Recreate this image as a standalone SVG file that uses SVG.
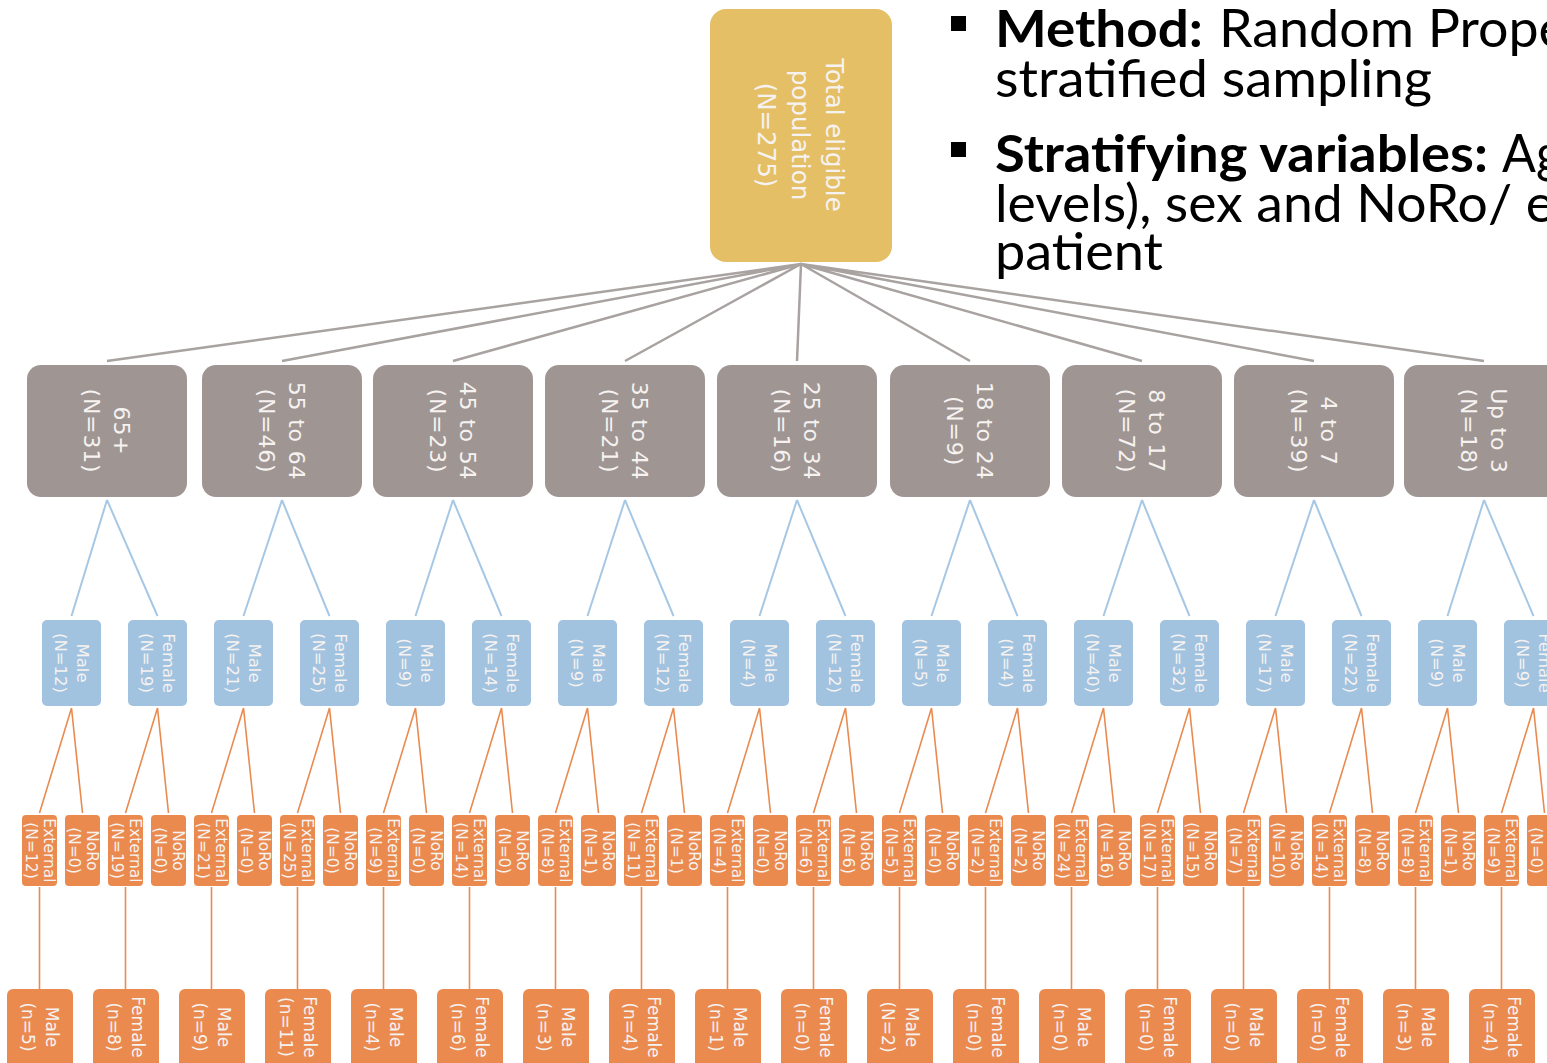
<svg xmlns="http://www.w3.org/2000/svg" width="1547" height="1063" viewBox="0 0 1547 1063">
<style>
.bt{font-family:"DejaVu Sans","Liberation Sans",sans-serif;fill:#F6F2F0;text-anchor:middle;dominant-baseline:central}
.t0{font-size:24.5px}
.t1{font-size:22px;letter-spacing:0.8px}
.t2{font-size:16.5px}
.t3{font-size:15.5px}
.t4{font-size:17px}
.gold{fill:#E5BF66}
.gray{fill:#9F9694}
.blue{fill:#A1C3E0}
.org{fill:#EA8A4F}
.c0{stroke:#A8A2A0;stroke-width:2.5;fill:none}
.c1{stroke:#A6C8E4;stroke-width:2;fill:none}
.c2{stroke:#E98B50;stroke-width:1.6;fill:none}
.rt{font-family:Lato,"Liberation Sans",sans-serif;font-size:52px;fill:#000}
.b{font-weight:bold}
</style>
<rect width="1547" height="1063" fill="#FFFFFF"/>
<g id="connectors">
<path class="c0" d="M801,264L107,361M801,264L282,361M801,264L453,361M801,264L625,361M801,264L797,361M801,264L970,361M801,264L1142,361M801,264L1314,361M801,264L1484,361"/>
<path class="c1" d="M107,500L71.5,616M107,500L157.5,616M282,500L243.5,616M282,500L329.5,616M453,500L415.5,616M453,500L501.5,616M625,500L587.5,616M625,500L673.5,616M797,500L759.5,616M797,500L845.5,616M970,500L931.5,616M970,500L1017.5,616M1142,500L1103.5,616M1142,500L1189.5,616M1314,500L1275.5,616M1314,500L1361.5,616M1484,500L1447.5,616M1484,500L1533.5,616"/>
<path class="c2" d="M71.5,708L39.5,813M71.5,708L82.5,813M157.5,708L125.5,813M157.5,708L168.5,813M243.5,708L211.5,813M243.5,708L254.5,813M329.5,708L297.5,813M329.5,708L340.5,813M415.5,708L383.5,813M415.5,708L426.5,813M501.5,708L469.5,813M501.5,708L512.5,813M587.5,708L555.5,813M587.5,708L598.5,813M673.5,708L641.5,813M673.5,708L684.5,813M759.5,708L727.5,813M759.5,708L770.5,813M845.5,708L813.5,813M845.5,708L856.5,813M931.5,708L899.5,813M931.5,708L942.5,813M1017.5,708L985.5,813M1017.5,708L1028.5,813M1103.5,708L1071.5,813M1103.5,708L1114.5,813M1189.5,708L1157.5,813M1189.5,708L1200.5,813M1275.5,708L1243.5,813M1275.5,708L1286.5,813M1361.5,708L1329.5,813M1361.5,708L1372.5,813M1447.5,708L1415.5,813M1447.5,708L1458.5,813M1533.5,708L1501.5,813M1533.5,708L1544.5,813"/>
<path class="c2" d="M39.5,887V989M125.5,887V989M211.5,887V989M297.5,887V989M383.5,887V989M469.5,887V989M555.5,887V989M641.5,887V989M727.5,887V989M813.5,887V989M899.5,887V989M985.5,887V989M1071.5,887V989M1157.5,887V989M1243.5,887V989M1329.5,887V989M1415.5,887V989M1501.5,887V989"/>
</g>
<g id="total">
<rect class="gold" x="710" y="9" width="182" height="253" rx="16"/>
<text class="bt t0" transform="translate(801 135) rotate(90)"><tspan x="0" y="-34">Total eligible</tspan><tspan x="0" y="0">population</tspan><tspan x="0" y="34">(N=275)</tspan></text>
</g>
<g id="age-65plus"><rect class="gray" x="27" y="365" width="160" height="132" rx="14"/><text class="bt t1" transform="translate(107 431) rotate(90)"><tspan x="0" y="-15">65+</tspan><tspan x="0" y="15">(N=31)</tspan></text></g>
<g id="age-55-64"><rect class="gray" x="202" y="365" width="160" height="132" rx="14"/><text class="bt t1" transform="translate(282 431) rotate(90)"><tspan x="0" y="-15">55 to 64</tspan><tspan x="0" y="15">(N=46)</tspan></text></g>
<g id="age-45-54"><rect class="gray" x="373" y="365" width="160" height="132" rx="14"/><text class="bt t1" transform="translate(453 431) rotate(90)"><tspan x="0" y="-15">45 to 54</tspan><tspan x="0" y="15">(N=23)</tspan></text></g>
<g id="age-35-44"><rect class="gray" x="545" y="365" width="160" height="132" rx="14"/><text class="bt t1" transform="translate(625 431) rotate(90)"><tspan x="0" y="-15">35 to 44</tspan><tspan x="0" y="15">(N=21)</tspan></text></g>
<g id="age-25-34"><rect class="gray" x="717" y="365" width="160" height="132" rx="14"/><text class="bt t1" transform="translate(797 431) rotate(90)"><tspan x="0" y="-15">25 to 34</tspan><tspan x="0" y="15">(N=16)</tspan></text></g>
<g id="age-18-24"><rect class="gray" x="890" y="365" width="160" height="132" rx="14"/><text class="bt t1" transform="translate(970 431) rotate(90)"><tspan x="0" y="-15">18 to 24</tspan><tspan x="0" y="15">(N=9)</tspan></text></g>
<g id="age-8-17"><rect class="gray" x="1062" y="365" width="160" height="132" rx="14"/><text class="bt t1" transform="translate(1142 431) rotate(90)"><tspan x="0" y="-15">8 to 17</tspan><tspan x="0" y="15">(N=72)</tspan></text></g>
<g id="age-4-7"><rect class="gray" x="1234" y="365" width="160" height="132" rx="14"/><text class="bt t1" transform="translate(1314 431) rotate(90)"><tspan x="0" y="-15">4 to 7</tspan><tspan x="0" y="15">(N=39)</tspan></text></g>
<g id="age-upto3"><rect class="gray" x="1404" y="365" width="160" height="132" rx="14"/><text class="bt t1" transform="translate(1484 431) rotate(90)"><tspan x="0" y="-15">Up to 3</tspan><tspan x="0" y="15">(N=18)</tspan></text></g>
<g id="sex-1"><rect class="blue" x="42" y="620" width="59" height="86" rx="5"/><text class="bt t2" transform="translate(71.5 663) rotate(90)"><tspan x="0" y="-11">Male</tspan><tspan x="0" y="11">(N=12)</tspan></text></g>
<g id="sex-2"><rect class="blue" x="128" y="620" width="59" height="86" rx="5"/><text class="bt t2" transform="translate(157.5 663) rotate(90)"><tspan x="0" y="-11">Female</tspan><tspan x="0" y="11">(N=19)</tspan></text></g>
<g id="sex-3"><rect class="blue" x="214" y="620" width="59" height="86" rx="5"/><text class="bt t2" transform="translate(243.5 663) rotate(90)"><tspan x="0" y="-11">Male</tspan><tspan x="0" y="11">(N=21)</tspan></text></g>
<g id="sex-4"><rect class="blue" x="300" y="620" width="59" height="86" rx="5"/><text class="bt t2" transform="translate(329.5 663) rotate(90)"><tspan x="0" y="-11">Female</tspan><tspan x="0" y="11">(N=25)</tspan></text></g>
<g id="sex-5"><rect class="blue" x="386" y="620" width="59" height="86" rx="5"/><text class="bt t2" transform="translate(415.5 663) rotate(90)"><tspan x="0" y="-11">Male</tspan><tspan x="0" y="11">(N=9)</tspan></text></g>
<g id="sex-6"><rect class="blue" x="472" y="620" width="59" height="86" rx="5"/><text class="bt t2" transform="translate(501.5 663) rotate(90)"><tspan x="0" y="-11">Female</tspan><tspan x="0" y="11">(N=14)</tspan></text></g>
<g id="sex-7"><rect class="blue" x="558" y="620" width="59" height="86" rx="5"/><text class="bt t2" transform="translate(587.5 663) rotate(90)"><tspan x="0" y="-11">Male</tspan><tspan x="0" y="11">(N=9)</tspan></text></g>
<g id="sex-8"><rect class="blue" x="644" y="620" width="59" height="86" rx="5"/><text class="bt t2" transform="translate(673.5 663) rotate(90)"><tspan x="0" y="-11">Female</tspan><tspan x="0" y="11">(N=12)</tspan></text></g>
<g id="sex-9"><rect class="blue" x="730" y="620" width="59" height="86" rx="5"/><text class="bt t2" transform="translate(759.5 663) rotate(90)"><tspan x="0" y="-11">Male</tspan><tspan x="0" y="11">(N=4)</tspan></text></g>
<g id="sex-10"><rect class="blue" x="816" y="620" width="59" height="86" rx="5"/><text class="bt t2" transform="translate(845.5 663) rotate(90)"><tspan x="0" y="-11">Female</tspan><tspan x="0" y="11">(N=12)</tspan></text></g>
<g id="sex-11"><rect class="blue" x="902" y="620" width="59" height="86" rx="5"/><text class="bt t2" transform="translate(931.5 663) rotate(90)"><tspan x="0" y="-11">Male</tspan><tspan x="0" y="11">(N=5)</tspan></text></g>
<g id="sex-12"><rect class="blue" x="988" y="620" width="59" height="86" rx="5"/><text class="bt t2" transform="translate(1017.5 663) rotate(90)"><tspan x="0" y="-11">Female</tspan><tspan x="0" y="11">(N=4)</tspan></text></g>
<g id="sex-13"><rect class="blue" x="1074" y="620" width="59" height="86" rx="5"/><text class="bt t2" transform="translate(1103.5 663) rotate(90)"><tspan x="0" y="-11">Male</tspan><tspan x="0" y="11">(N=40)</tspan></text></g>
<g id="sex-14"><rect class="blue" x="1160" y="620" width="59" height="86" rx="5"/><text class="bt t2" transform="translate(1189.5 663) rotate(90)"><tspan x="0" y="-11">Female</tspan><tspan x="0" y="11">(N=32)</tspan></text></g>
<g id="sex-15"><rect class="blue" x="1246" y="620" width="59" height="86" rx="5"/><text class="bt t2" transform="translate(1275.5 663) rotate(90)"><tspan x="0" y="-11">Male</tspan><tspan x="0" y="11">(N=17)</tspan></text></g>
<g id="sex-16"><rect class="blue" x="1332" y="620" width="59" height="86" rx="5"/><text class="bt t2" transform="translate(1361.5 663) rotate(90)"><tspan x="0" y="-11">Female</tspan><tspan x="0" y="11">(N=22)</tspan></text></g>
<g id="sex-17"><rect class="blue" x="1418" y="620" width="59" height="86" rx="5"/><text class="bt t2" transform="translate(1447.5 663) rotate(90)"><tspan x="0" y="-11">Male</tspan><tspan x="0" y="11">(N=9)</tspan></text></g>
<g id="sex-18"><rect class="blue" x="1504" y="620" width="59" height="86" rx="5"/><text class="bt t2" transform="translate(1533.5 663) rotate(90)"><tspan x="0" y="-11">Female</tspan><tspan x="0" y="11">(N=9)</tspan></text></g>
<g id="src-1"><rect class="org" x="22" y="815" width="35" height="71" rx="4"/><text class="bt t3" transform="translate(39.5 850.5) rotate(90)"><tspan x="0" y="-9">External</tspan><tspan x="0" y="9">(N=12)</tspan></text></g>
<g id="src-2"><rect class="org" x="65" y="815" width="35" height="71" rx="4"/><text class="bt t3" transform="translate(82.5 850.5) rotate(90)"><tspan x="0" y="-9">NoRo</tspan><tspan x="0" y="9">(N=0)</tspan></text></g>
<g id="src-3"><rect class="org" x="108" y="815" width="35" height="71" rx="4"/><text class="bt t3" transform="translate(125.5 850.5) rotate(90)"><tspan x="0" y="-9">External</tspan><tspan x="0" y="9">(N=19)</tspan></text></g>
<g id="src-4"><rect class="org" x="151" y="815" width="35" height="71" rx="4"/><text class="bt t3" transform="translate(168.5 850.5) rotate(90)"><tspan x="0" y="-9">NoRo</tspan><tspan x="0" y="9">(N=0)</tspan></text></g>
<g id="src-5"><rect class="org" x="194" y="815" width="35" height="71" rx="4"/><text class="bt t3" transform="translate(211.5 850.5) rotate(90)"><tspan x="0" y="-9">External</tspan><tspan x="0" y="9">(N=21)</tspan></text></g>
<g id="src-6"><rect class="org" x="237" y="815" width="35" height="71" rx="4"/><text class="bt t3" transform="translate(254.5 850.5) rotate(90)"><tspan x="0" y="-9">NoRo</tspan><tspan x="0" y="9">(N=0)</tspan></text></g>
<g id="src-7"><rect class="org" x="280" y="815" width="35" height="71" rx="4"/><text class="bt t3" transform="translate(297.5 850.5) rotate(90)"><tspan x="0" y="-9">External</tspan><tspan x="0" y="9">(N=25)</tspan></text></g>
<g id="src-8"><rect class="org" x="323" y="815" width="35" height="71" rx="4"/><text class="bt t3" transform="translate(340.5 850.5) rotate(90)"><tspan x="0" y="-9">NoRo</tspan><tspan x="0" y="9">(N=0)</tspan></text></g>
<g id="src-9"><rect class="org" x="366" y="815" width="35" height="71" rx="4"/><text class="bt t3" transform="translate(383.5 850.5) rotate(90)"><tspan x="0" y="-9">External</tspan><tspan x="0" y="9">(N=9)</tspan></text></g>
<g id="src-10"><rect class="org" x="409" y="815" width="35" height="71" rx="4"/><text class="bt t3" transform="translate(426.5 850.5) rotate(90)"><tspan x="0" y="-9">NoRo</tspan><tspan x="0" y="9">(N=0)</tspan></text></g>
<g id="src-11"><rect class="org" x="452" y="815" width="35" height="71" rx="4"/><text class="bt t3" transform="translate(469.5 850.5) rotate(90)"><tspan x="0" y="-9">External</tspan><tspan x="0" y="9">(N=14)</tspan></text></g>
<g id="src-12"><rect class="org" x="495" y="815" width="35" height="71" rx="4"/><text class="bt t3" transform="translate(512.5 850.5) rotate(90)"><tspan x="0" y="-9">NoRo</tspan><tspan x="0" y="9">(N=0)</tspan></text></g>
<g id="src-13"><rect class="org" x="538" y="815" width="35" height="71" rx="4"/><text class="bt t3" transform="translate(555.5 850.5) rotate(90)"><tspan x="0" y="-9">External</tspan><tspan x="0" y="9">(N=8)</tspan></text></g>
<g id="src-14"><rect class="org" x="581" y="815" width="35" height="71" rx="4"/><text class="bt t3" transform="translate(598.5 850.5) rotate(90)"><tspan x="0" y="-9">NoRo</tspan><tspan x="0" y="9">(N=1)</tspan></text></g>
<g id="src-15"><rect class="org" x="624" y="815" width="35" height="71" rx="4"/><text class="bt t3" transform="translate(641.5 850.5) rotate(90)"><tspan x="0" y="-9">External</tspan><tspan x="0" y="9">(N=11)</tspan></text></g>
<g id="src-16"><rect class="org" x="667" y="815" width="35" height="71" rx="4"/><text class="bt t3" transform="translate(684.5 850.5) rotate(90)"><tspan x="0" y="-9">NoRo</tspan><tspan x="0" y="9">(N=1)</tspan></text></g>
<g id="src-17"><rect class="org" x="710" y="815" width="35" height="71" rx="4"/><text class="bt t3" transform="translate(727.5 850.5) rotate(90)"><tspan x="0" y="-9">External</tspan><tspan x="0" y="9">(N=4)</tspan></text></g>
<g id="src-18"><rect class="org" x="753" y="815" width="35" height="71" rx="4"/><text class="bt t3" transform="translate(770.5 850.5) rotate(90)"><tspan x="0" y="-9">NoRo</tspan><tspan x="0" y="9">(N=0)</tspan></text></g>
<g id="src-19"><rect class="org" x="796" y="815" width="35" height="71" rx="4"/><text class="bt t3" transform="translate(813.5 850.5) rotate(90)"><tspan x="0" y="-9">External</tspan><tspan x="0" y="9">(N=6)</tspan></text></g>
<g id="src-20"><rect class="org" x="839" y="815" width="35" height="71" rx="4"/><text class="bt t3" transform="translate(856.5 850.5) rotate(90)"><tspan x="0" y="-9">NoRo</tspan><tspan x="0" y="9">(N=6)</tspan></text></g>
<g id="src-21"><rect class="org" x="882" y="815" width="35" height="71" rx="4"/><text class="bt t3" transform="translate(899.5 850.5) rotate(90)"><tspan x="0" y="-9">External</tspan><tspan x="0" y="9">(N=5)</tspan></text></g>
<g id="src-22"><rect class="org" x="925" y="815" width="35" height="71" rx="4"/><text class="bt t3" transform="translate(942.5 850.5) rotate(90)"><tspan x="0" y="-9">NoRo</tspan><tspan x="0" y="9">(N=0)</tspan></text></g>
<g id="src-23"><rect class="org" x="968" y="815" width="35" height="71" rx="4"/><text class="bt t3" transform="translate(985.5 850.5) rotate(90)"><tspan x="0" y="-9">External</tspan><tspan x="0" y="9">(N=2)</tspan></text></g>
<g id="src-24"><rect class="org" x="1011" y="815" width="35" height="71" rx="4"/><text class="bt t3" transform="translate(1028.5 850.5) rotate(90)"><tspan x="0" y="-9">NoRo</tspan><tspan x="0" y="9">(N=2)</tspan></text></g>
<g id="src-25"><rect class="org" x="1054" y="815" width="35" height="71" rx="4"/><text class="bt t3" transform="translate(1071.5 850.5) rotate(90)"><tspan x="0" y="-9">External</tspan><tspan x="0" y="9">(N=24)</tspan></text></g>
<g id="src-26"><rect class="org" x="1097" y="815" width="35" height="71" rx="4"/><text class="bt t3" transform="translate(1114.5 850.5) rotate(90)"><tspan x="0" y="-9">NoRo</tspan><tspan x="0" y="9">(N=16)</tspan></text></g>
<g id="src-27"><rect class="org" x="1140" y="815" width="35" height="71" rx="4"/><text class="bt t3" transform="translate(1157.5 850.5) rotate(90)"><tspan x="0" y="-9">External</tspan><tspan x="0" y="9">(N=17)</tspan></text></g>
<g id="src-28"><rect class="org" x="1183" y="815" width="35" height="71" rx="4"/><text class="bt t3" transform="translate(1200.5 850.5) rotate(90)"><tspan x="0" y="-9">NoRo</tspan><tspan x="0" y="9">(N=15)</tspan></text></g>
<g id="src-29"><rect class="org" x="1226" y="815" width="35" height="71" rx="4"/><text class="bt t3" transform="translate(1243.5 850.5) rotate(90)"><tspan x="0" y="-9">External</tspan><tspan x="0" y="9">(N=7)</tspan></text></g>
<g id="src-30"><rect class="org" x="1269" y="815" width="35" height="71" rx="4"/><text class="bt t3" transform="translate(1286.5 850.5) rotate(90)"><tspan x="0" y="-9">NoRo</tspan><tspan x="0" y="9">(N=10)</tspan></text></g>
<g id="src-31"><rect class="org" x="1312" y="815" width="35" height="71" rx="4"/><text class="bt t3" transform="translate(1329.5 850.5) rotate(90)"><tspan x="0" y="-9">External</tspan><tspan x="0" y="9">(N=14)</tspan></text></g>
<g id="src-32"><rect class="org" x="1355" y="815" width="35" height="71" rx="4"/><text class="bt t3" transform="translate(1372.5 850.5) rotate(90)"><tspan x="0" y="-9">NoRo</tspan><tspan x="0" y="9">(N=8)</tspan></text></g>
<g id="src-33"><rect class="org" x="1398" y="815" width="35" height="71" rx="4"/><text class="bt t3" transform="translate(1415.5 850.5) rotate(90)"><tspan x="0" y="-9">External</tspan><tspan x="0" y="9">(N=8)</tspan></text></g>
<g id="src-34"><rect class="org" x="1441" y="815" width="35" height="71" rx="4"/><text class="bt t3" transform="translate(1458.5 850.5) rotate(90)"><tspan x="0" y="-9">NoRo</tspan><tspan x="0" y="9">(N=1)</tspan></text></g>
<g id="src-35"><rect class="org" x="1484" y="815" width="35" height="71" rx="4"/><text class="bt t3" transform="translate(1501.5 850.5) rotate(90)"><tspan x="0" y="-9">External</tspan><tspan x="0" y="9">(N=9)</tspan></text></g>
<g id="src-36"><rect class="org" x="1527" y="815" width="35" height="71" rx="4"/><text class="bt t3" transform="translate(1544.5 850.5) rotate(90)"><tspan x="0" y="-9">NoRo</tspan><tspan x="0" y="9">(N=0)</tspan></text></g>
<g id="ext-1"><rect class="org" x="7" y="989" width="66" height="80" rx="6"/><text class="bt t4" transform="translate(40 1027) rotate(90)"><tspan x="0" y="-12">Male</tspan><tspan x="0" y="12">(n=5)</tspan></text></g>
<g id="ext-2"><rect class="org" x="93" y="989" width="66" height="80" rx="6"/><text class="bt t4" transform="translate(126 1027) rotate(90)"><tspan x="0" y="-12">Female</tspan><tspan x="0" y="12">(n=8)</tspan></text></g>
<g id="ext-3"><rect class="org" x="179" y="989" width="66" height="80" rx="6"/><text class="bt t4" transform="translate(212 1027) rotate(90)"><tspan x="0" y="-12">Male</tspan><tspan x="0" y="12">(n=9)</tspan></text></g>
<g id="ext-4"><rect class="org" x="265" y="989" width="66" height="80" rx="6"/><text class="bt t4" transform="translate(298 1027) rotate(90)"><tspan x="0" y="-12">Female</tspan><tspan x="0" y="12">(n=11)</tspan></text></g>
<g id="ext-5"><rect class="org" x="351" y="989" width="66" height="80" rx="6"/><text class="bt t4" transform="translate(384 1027) rotate(90)"><tspan x="0" y="-12">Male</tspan><tspan x="0" y="12">(n=4)</tspan></text></g>
<g id="ext-6"><rect class="org" x="437" y="989" width="66" height="80" rx="6"/><text class="bt t4" transform="translate(470 1027) rotate(90)"><tspan x="0" y="-12">Female</tspan><tspan x="0" y="12">(n=6)</tspan></text></g>
<g id="ext-7"><rect class="org" x="523" y="989" width="66" height="80" rx="6"/><text class="bt t4" transform="translate(556 1027) rotate(90)"><tspan x="0" y="-12">Male</tspan><tspan x="0" y="12">(n=3)</tspan></text></g>
<g id="ext-8"><rect class="org" x="609" y="989" width="66" height="80" rx="6"/><text class="bt t4" transform="translate(642 1027) rotate(90)"><tspan x="0" y="-12">Female</tspan><tspan x="0" y="12">(n=4)</tspan></text></g>
<g id="ext-9"><rect class="org" x="695" y="989" width="66" height="80" rx="6"/><text class="bt t4" transform="translate(728 1027) rotate(90)"><tspan x="0" y="-12">Male</tspan><tspan x="0" y="12">(n=1)</tspan></text></g>
<g id="ext-10"><rect class="org" x="781" y="989" width="66" height="80" rx="6"/><text class="bt t4" transform="translate(814 1027) rotate(90)"><tspan x="0" y="-12">Female</tspan><tspan x="0" y="12">(n=0)</tspan></text></g>
<g id="ext-11"><rect class="org" x="867" y="989" width="66" height="80" rx="6"/><text class="bt t4" transform="translate(900 1027) rotate(90)"><tspan x="0" y="-12">Male</tspan><tspan x="0" y="12">(N=2)</tspan></text></g>
<g id="ext-12"><rect class="org" x="953" y="989" width="66" height="80" rx="6"/><text class="bt t4" transform="translate(986 1027) rotate(90)"><tspan x="0" y="-12">Female</tspan><tspan x="0" y="12">(n=0)</tspan></text></g>
<g id="ext-13"><rect class="org" x="1039" y="989" width="66" height="80" rx="6"/><text class="bt t4" transform="translate(1072 1027) rotate(90)"><tspan x="0" y="-12">Male</tspan><tspan x="0" y="12">(n=0)</tspan></text></g>
<g id="ext-14"><rect class="org" x="1125" y="989" width="66" height="80" rx="6"/><text class="bt t4" transform="translate(1158 1027) rotate(90)"><tspan x="0" y="-12">Female</tspan><tspan x="0" y="12">(n=0)</tspan></text></g>
<g id="ext-15"><rect class="org" x="1211" y="989" width="66" height="80" rx="6"/><text class="bt t4" transform="translate(1244 1027) rotate(90)"><tspan x="0" y="-12">Male</tspan><tspan x="0" y="12">(n=0)</tspan></text></g>
<g id="ext-16"><rect class="org" x="1297" y="989" width="66" height="80" rx="6"/><text class="bt t4" transform="translate(1330 1027) rotate(90)"><tspan x="0" y="-12">Female</tspan><tspan x="0" y="12">(n=0)</tspan></text></g>
<g id="ext-17"><rect class="org" x="1383" y="989" width="66" height="80" rx="6"/><text class="bt t4" transform="translate(1416 1027) rotate(90)"><tspan x="0" y="-12">Male</tspan><tspan x="0" y="12">(n=3)</tspan></text></g>
<g id="ext-18"><rect class="org" x="1469" y="989" width="66" height="80" rx="6"/><text class="bt t4" transform="translate(1502 1027) rotate(90)"><tspan x="0" y="-12">Female</tspan><tspan x="0" y="12">(n=4)</tspan></text></g>
<g id="notes">
<rect x="951" y="16" width="15" height="15" fill="#000"/>
<rect x="951" y="142" width="15" height="15" fill="#000"/>
<text class="rt b" x="995" y="47" textLength="208" lengthAdjust="spacingAndGlyphs">Method:</text>
<text class="rt" x="1219" y="47" textLength="348" lengthAdjust="spacingAndGlyphs">Random Prope</text>
<text class="rt" x="995" y="97" textLength="437" lengthAdjust="spacingAndGlyphs">stratified sampling</text>
<text class="rt b" x="995" y="172" textLength="493" lengthAdjust="spacingAndGlyphs">Stratifying variables:</text>
<text class="rt" x="1502" y="172" textLength="60" lengthAdjust="spacingAndGlyphs">Ag</text>
<text class="rt" x="995" y="222" textLength="559" lengthAdjust="spacingAndGlyphs">levels), sex and NoRo/ e</text>
<text class="rt" x="995" y="270" textLength="168" lengthAdjust="spacingAndGlyphs">patient</text>
</g>
</svg>
